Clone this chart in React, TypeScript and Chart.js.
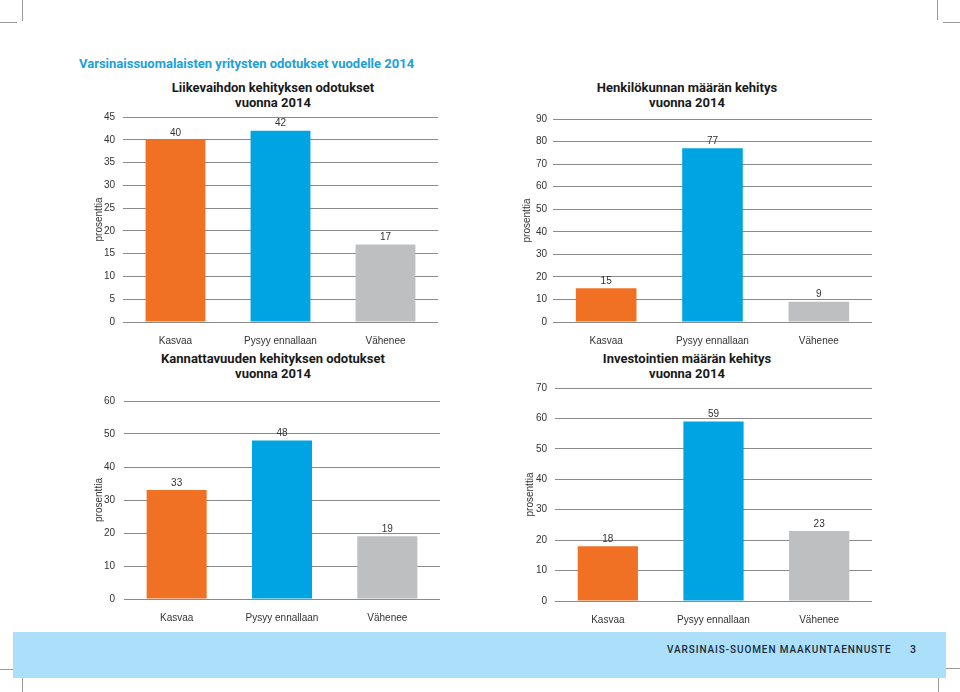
import React, { useEffect, useRef } from "react";
import { Chart, registerables } from "chart.js";

Chart.register(...registerables);

const categories = ["Kasvaa", "Pysyy ennallaan", "Vähenee"];
const liikevaihtoValues = [40, 42, 17];
const henkilokuntaValues = [15, 77, 9];
const kannattavuusValues = [33, 48, 19];
const investointiValues = [18, 59, 23];
const barColors = ["#f07123", "#00a4e2", "#bdbfc1"];

const liikevaihtoTicks = { max: 45, step: 5 };
const henkilokuntaTicks = { max: 90, step: 10 };
const kannattavuusTicks = { max: 60, step: 10 };
const investointiTicks = { max: 70, step: 10 };

const yAxisTitle = "prosenttia";
const pageTitle = "Varsinaissuomalaisten yritysten odotukset vuodelle 2014";
const footerText = "VARSINAIS-SUOMEN MAAKUNTAENNUSTE";
const pageNumber = "3";

const AXIS_FONT = '"Liberation Sans", Arial, sans-serif';
const HEAD_FONT = 'Roboto, "Noto Sans", sans-serif';

const valueLabels = {
  id: "valueLabels",
  afterDatasetsDraw(chart: any) {
    const ctx = chart.ctx;
    const meta = chart.getDatasetMeta(0);
    const data = chart.data.datasets[0].data;
    ctx.save();
    ctx.font = "10px " + AXIS_FONT;
    ctx.fillStyle = "#333333";
    ctx.textAlign = "center";
    ctx.textBaseline = "bottom";
    meta.data.forEach((el: any, i: number) => {
      ctx.fillText(String(data[i]), el.x, el.y - 2);
    });
    ctx.restore();
  },
};

type Layout = {
  left: number;
  top: number;
  width: number;
  height: number;
  padLeft: number;
  padRight: number;
  yAxisWidth: number;
  xAxisHeight: number;
  tickPad: number;
};

function BarChart({
  values,
  ticks,
  layout,
}: {
  values: number[];
  ticks: { max: number; step: number };
  layout: Layout;
}) {
  const ref = useRef<HTMLCanvasElement | null>(null);
  useEffect(() => {
    if (!ref.current) return;
    const chart = new Chart(ref.current, {
      type: "bar",
      data: {
        labels: categories,
        datasets: [
          {
            data: values,
            backgroundColor: barColors,
            borderWidth: 0,
            barPercentage: 0.57,
            categoryPercentage: 1,
          },
        ],
      },
      options: {
        animation: false,
        responsive: false,
        devicePixelRatio: 1,
        layout: {
          padding: {
            left: layout.padLeft,
            top: 0,
            right: layout.padRight,
            bottom: 0,
          },
        },
        plugins: {
          legend: { display: false },
          tooltip: { enabled: false },
          title: { display: false },
        },
        scales: {
          x: {
            grid: { display: false },
            border: { display: false },
            ticks: {
              color: "#333333",
              font: { family: AXIS_FONT, size: 10 },
              padding: 5,
              maxRotation: 0,
            },
            afterFit: (s: any) => {
              s.height = layout.xAxisHeight;
            },
          },
          y: {
            min: 0,
            max: ticks.max,
            border: { display: false },
            grid: { color: "#8a8a8a", lineWidth: 1, drawTicks: false },
            ticks: {
              stepSize: ticks.step,
              color: "#333333",
              font: { family: AXIS_FONT, size: 10 },
              padding: layout.tickPad,
            },
            title: {
              display: true,
              text: yAxisTitle,
              color: "#333333",
              font: { family: AXIS_FONT, size: 10 },
              padding: { top: 0, bottom: 0 },
            },
            afterFit: (s: any) => {
              s.width = layout.yAxisWidth;
            },
          },
        },
      },
      plugins: [valueLabels],
    });
    return () => chart.destroy();
  }, []);
  return (
    <canvas
      ref={ref}
      width={layout.width}
      height={layout.height}
      style={{
        position: "absolute",
        left: layout.left,
        top: layout.top,
        width: layout.width,
        height: layout.height,
        display: "block",
      }}
    />
  );
}

function ChartTitle({ lines, cx, top }: { lines: string[]; cx: number; top: number }) {
  return (
    <div
      style={{
        position: "absolute",
        left: cx - 150,
        top,
        width: 300,
        textAlign: "center",
        fontFamily: HEAD_FONT,
        fontWeight: 700,
        fontSize: 13,
        lineHeight: "15px",
        color: "#1a1a1a",
      }}
    >
      {lines.map((l, i) => (
        <div key={i}>{l}</div>
      ))}
    </div>
  );
}

function Mark({ l, t, w, h }: { l: number; t: number; w: number; h: number }) {
  return (
    <div style={{ position: "absolute", left: l, top: t, width: w, height: h, background: "#9a9a9a" }} />
  );
}

export default function App() {
  return (
    <div
      style={{
        position: "absolute",
        left: 0,
        top: 0,
        width: 960,
        height: 692,
        background: "#ffffff",
        overflow: "hidden",
      }}
    >
      <Mark l={22} t={0} w={1} h={21} />
      <Mark l={0} t={22} w={17} h={1} />
      <Mark l={937} t={0} w={1} h={20} />
      <Mark l={943} t={22} w={17} h={1} />
      <Mark l={0} t={669} w={15} h={1} />
      <Mark l={22} t={678} w={1} h={14} />
      <Mark l={945} t={668} w={15} h={1} />
      <Mark l={938} t={677} w={1} h={15} />

      <div
        style={{
          position: "absolute",
          left: 79,
          top: 55,
          fontFamily: HEAD_FONT,
          fontWeight: 700,
          fontSize: 13,
          lineHeight: "18px",
          color: "#21a0d8",
          whiteSpace: "nowrap",
        }}
      >
        {pageTitle}
      </div>

      <ChartTitle lines={["Liikevaihdon kehityksen odotukset", "vuonna 2014"]} cx={273} top={80} />
      <ChartTitle lines={["Henkilökunnan määrän kehitys", "vuonna 2014"]} cx={687} top={80} />
      <ChartTitle lines={["Kannattavuuden kehityksen odotukset", "vuonna 2014"]} cx={273} top={351} />
      <ChartTitle lines={["Investointien määrän kehitys", "vuonna 2014"]} cx={687} top={351} />

      <BarChart
        values={liikevaihtoValues}
        ticks={liikevaihtoTicks}
        layout={{ left: 70, top: 103, width: 380, height: 247, padLeft: 23, padRight: 12, yAxisWidth: 30, xAxisHeight: 28, tickPad: 8 }}
      />
      <BarChart
        values={henkilokuntaValues}
        ticks={henkilokuntaTicks}
        layout={{ left: 500, top: 107, width: 380, height: 243, padLeft: 21, padRight: 8, yAxisWidth: 32, xAxisHeight: 28, tickPad: 6 }}
      />
      <BarChart
        values={kannattavuusValues}
        ticks={kannattavuusTicks}
        layout={{ left: 70, top: 386, width: 380, height: 244, padLeft: 23, padRight: 10, yAxisWidth: 31, xAxisHeight: 31, tickPad: 9 }}
      />
      <BarChart
        values={investointiValues}
        ticks={investointiTicks}
        layout={{ left: 500, top: 374, width: 380, height: 256, padLeft: 24, padRight: 8, yAxisWidth: 31, xAxisHeight: 29, tickPad: 8 }}
      />

      <div
        style={{
          position: "absolute",
          left: 13,
          top: 632,
          width: 933,
          height: 46,
          background: "#abdffa",
        }}
      />
      <div
        style={{
          position: "absolute",
          left: 667,
          top: 643,
          fontFamily: HEAD_FONT,
          fontWeight: 500,
          fontSize: 10,
          letterSpacing: 0.9,
          lineHeight: "14px",
          color: "#1c2b39",
          whiteSpace: "nowrap",
        }}
      >
        {footerText}
      </div>
      <div
        style={{
          position: "absolute",
          left: 910,
          top: 643,
          fontFamily: HEAD_FONT,
          fontWeight: 500,
          fontSize: 10.5,
          lineHeight: "14px",
          color: "#1c2b39",
        }}
      >
        {pageNumber}
      </div>
    </div>
  );
}
